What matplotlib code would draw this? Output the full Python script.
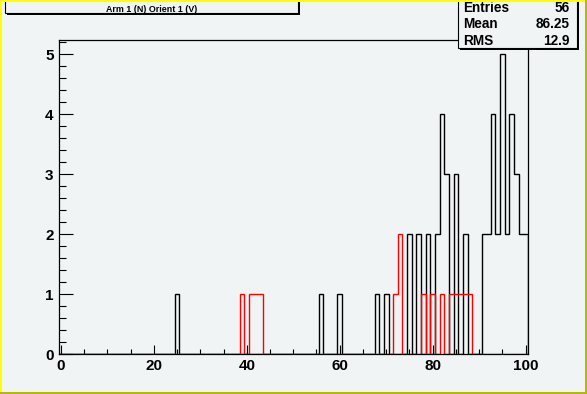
import numpy as np
import matplotlib
matplotlib.use('Agg')
import matplotlib.pyplot as plt
from matplotlib.patches import Rectangle

W, H = 587, 394

# histogram contents (bin centre -> count), 101 bins from -0.5 to 100.5
black_bins = [25, 56, 60, 68, 70, 75, 77, 79, 81, 82, 83, 85, 87,
              91, 92, 93, 94, 95, 96, 97, 98, 99, 100]
black_counts = [1, 1, 1, 1, 1, 2, 2, 2, 2, 4, 3, 3, 2,
                2, 2, 4, 2, 5, 2, 4, 3, 2, 2]
red_bins = [39, 41, 42, 43, 72, 73, 78, 80, 82, 84, 85, 86, 87, 88]
red_counts = [1, 1, 1, 1, 1, 2, 1, 1, 1, 1, 1, 1, 1, 1]

title = "Arm 1 (N) Orient 1 (V)"
stats_names = ["Entries", "Mean", "RMS"]
stats_values = ["56", "86.25", "12.9"]

edges = np.arange(-0.5, 101.5, 1.0)
h_black = np.zeros(101)
h_black[black_bins] = black_counts
h_red = np.zeros(101)
h_red[red_bins] = red_counts

bg = '#f1f4f5'
plt.rcParams['font.family'] = ['Liberation Sans', 'DejaVu Sans']
plt.rcParams['font.weight'] = 'bold'

fig = plt.figure(figsize=(W / 100, H / 100), dpi=100, facecolor=bg)


def px(x, y):
    return x / W, 1 - y / H


# axes frame in pixel coords
l, r, t, b = 58.5, 528, 39.5, 354
ax = fig.add_axes([l / W, 1 - b / H, (r - l) / W, (b - t) / H], facecolor=bg)

ax.stairs(h_black, edges, color='black', lw=1.0)
ax.stairs(h_red, edges, color='#ff0000', lw=1.0)

ax.set_xlim(-0.5, 100.5)
ax.set_ylim(0, 5.25)
ax.set_xticks(np.arange(0, 101, 20))
ax.set_xticks(np.arange(0, 101, 5), minor=True)
ax.set_yticks(np.arange(0, 6, 1))
ax.set_yticks(np.arange(0, 5.25, 0.2), minor=True)
ax.tick_params(axis='x', which='major', direction='in', length=6.5, width=0.8, pad=3.5, labelsize=11)
ax.tick_params(axis='x', which='minor', direction='in', length=3.5, width=0.8)
ax.tick_params(axis='y', which='major', direction='in', length=10, width=0.8, pad=3.5, labelsize=11)
ax.tick_params(axis='y', which='minor', direction='in', length=5, width=0.8)
for lab in ax.get_xticklabels() + ax.get_yticklabels():
    lab.set_fontweight('bold')
for s in ax.spines.values():
    s.set_linewidth(0.9)

# title box (with shadow)
x0, y0 = px(5, 13.3)
w_, h_ = 293 / W, 20 / H
fig.add_artist(Rectangle((x0 + 2 / W, y0 - 1.5 / H), w_, h_, transform=fig.transFigure,
                         facecolor='black', edgecolor='black', lw=0, zorder=5))
fig.add_artist(Rectangle((x0, y0), w_, h_, transform=fig.transFigure,
                         facecolor=bg, edgecolor='black', lw=0.8, zorder=6))
fig.text(*px(151.5, 9.3), title, ha='center', va='center', fontsize=6.4,
         fontweight='bold', zorder=7)

# stats box (with shadow)
x0, y0 = px(457.5, 47.5)
w_, h_ = 119 / W, 60 / H
fig.add_artist(Rectangle((x0 + 2.5 / W, y0 - 2 / H), w_, h_, transform=fig.transFigure,
                         facecolor='black', edgecolor='black', lw=0, zorder=5))
fig.add_artist(Rectangle((x0, y0), w_, h_, transform=fig.transFigure,
                         facecolor=bg, edgecolor='black', lw=0.8, zorder=6))
for i, (n, v) in enumerate(zip(stats_names, stats_values)):
    yy = 7.8 + i * 16.7
    fig.text(*px(463, yy), n, ha='left', va='center', fontsize=9.8,
             fontweight='bold', zorder=7)
    fig.text(*px(569.5, yy), v, ha='right', va='center', fontsize=9.8,
             fontweight='bold', zorder=7)

# canvas bevel border
yel, olive = '#ffff00', '#b8b800'
fig.add_artist(Rectangle((0, 0), 2 / W, 1, transform=fig.transFigure, color=yel, lw=0, zorder=8))
fig.add_artist(Rectangle((0, 1 - 2 / H), 1, 2 / H, transform=fig.transFigure, color=yel, lw=0, zorder=8))
fig.add_artist(Rectangle((1 - 2.5 / W, 0), 2.5 / W, 1, transform=fig.transFigure, color=olive, lw=0, zorder=9))
fig.add_artist(Rectangle((0, 0), 1, 2.5 / H, transform=fig.transFigure, color=olive, lw=0, zorder=9))

fig.savefig('out.png', dpi=100, facecolor=bg)
